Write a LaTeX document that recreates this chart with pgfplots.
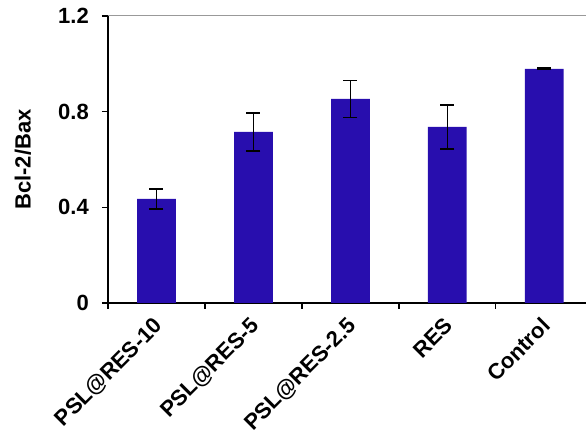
\documentclass[border=0pt]{standalone}
\usepackage{pgfplots}
\pgfplotsset{compat=1.18}
\usetikzlibrary{calc}
\usepackage{fontspec}
\setmainfont{Liberation Sans}
\definecolor{barblue}{RGB}{40,14,174}
\begin{document}
\begin{tikzpicture}
\begin{axis}[
  scale only axis,
  width=478pt, height=287pt,
  xmin=-0.5, xmax=4.43,
  ymin=0, ymax=1.2,
  axis x line=bottom, axis y line=left,
  axis line style={black, line width=1.3pt, -},
  xtick={0,1,2,3,4},
  xticklabels={PSL@RES-10,PSL@RES-5,PSL@RES-2.5,RES,Control},
  major x tick style={draw=none},
  minor xtick={-0.5,0.5,1.5,2.5,3.5},
  minor tick length=6pt,
  minor x tick style={black, line width=1.3pt},
  ytick={0,0.4,0.8,1.2},
  yticklabels={0,0.4,0.8,1.2},
  major tick length=6pt,
  tick align=outside,
  y tick style={black, line width=1.3pt},
  tick label style={font=\fontsize{22}{24}\selectfont\bfseries},
  yticklabel style={inner sep=0pt, xshift=-13pt},
  xticklabel style={inner sep=0pt, xshift=-4pt, yshift=-7pt, rotate=45, anchor=north east},
  ylabel={Bcl-2/Bax},
  every axis y label/.style={at={(axis description cs:-0.178,0.5)}, rotate=90, anchor=center, font=\fontsize{22}{24}\selectfont\bfseries},
  clip=false,
]
\coordinate (O) at (rel axis cs:0,0);
\draw[gray!80, line width=1pt] (rel axis cs:0,1) -- (rel axis cs:1,1);
\addplot[ybar, bar width=0.4, fill=barblue, draw=none,
  error bars/.cd, y dir=both, y explicit,
  error bar style={black, line width=1.6pt},
  error mark options={black, line width=1.6pt, mark size=7pt, rotate=90}]
  coordinates {
  (0,0.435) +- (0,0.041)
  (1,0.715) +- (0,0.080)
  (2,0.853) +- (0,0.077)
  (3,0.736) +- (0,0.093)
  (4,0.979) +- (0,0.003)
  };
\end{axis}
\pgfresetboundingbox
\useasboundingbox ($(O)+(-108pt,-132pt)$) rectangle ($(O)+(478pt,303pt)$);
\end{tikzpicture}
\end{document}
